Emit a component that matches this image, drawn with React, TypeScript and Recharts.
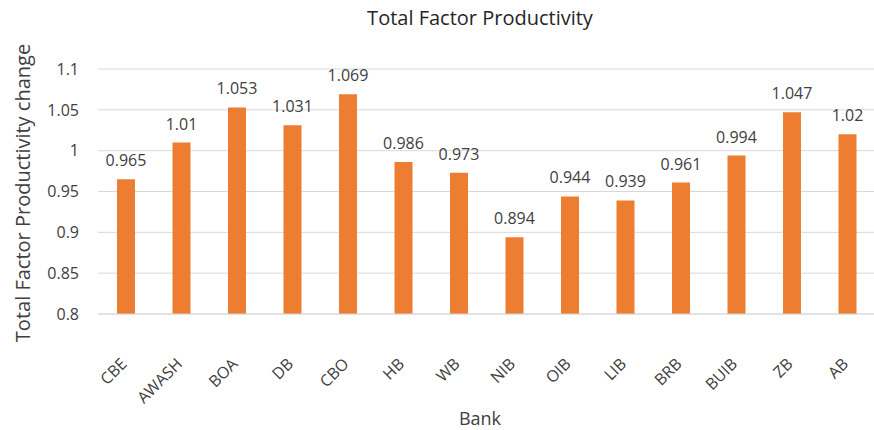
import { BarChart, Bar, XAxis, YAxis, CartesianGrid, LabelList, Label } from 'recharts'

const banks = ['CBE', 'AWASH', 'BOA', 'DB', 'CBO', 'HB', 'WB', 'NIB', 'OIB', 'LIB', 'BRB', 'BUIB', 'ZB', 'AB']
const tfpChange = [0.965, 1.01, 1.053, 1.031, 1.069, 0.986, 0.973, 0.894, 0.944, 0.939, 0.961, 0.994, 1.047, 1.02]
const yTicks = [0.8, 0.85, 0.9, 0.95, 1, 1.05, 1.1]

const data = banks.map((bank, i) => ({ bank, value: tfpChange[i] }))

const FONT = '"Open Sans", "Noto Sans", sans-serif'
const TEXT = '#404040'

const BankTick = ({ x, y, payload }: any) => (
    <g transform={`translate(${x + 2},${y + 43})`}>
        <text x={0} y={0} textAnchor="end" transform="rotate(-45)" fill={TEXT} fontSize={16} fontFamily={FONT}>
            {payload.value}
        </text>
    </g>
)

export default function App() {
    return (
        <div style={{ position: 'fixed', left: 0, top: 0, width: 874, height: 430, overflow: 'hidden', background: 'white' }}>
            <div style={{ position: 'absolute', left: 0, top: 4, width: 960, textAlign: 'center', fontFamily: FONT, fontSize: 20, color: '#262626' }}>
                Total Factor Productivity
            </div>
            <BarChart width={875} height={430} data={data} margin={{ top: 69, right: 0, bottom: 0, left: 0 }}>
                <CartesianGrid vertical={false} stroke="#d9d9d9" strokeWidth={1} />
                <XAxis
                    dataKey="bank"
                    height={116}
                    axisLine={{ stroke: '#d9d9d9' }}
                    tickLine={false}
                    interval={0}
                    tick={<BankTick />}
                >
                    <Label
                        content={() => (
                            <text x={480} y={425} textAnchor="middle" fill={TEXT} fontSize={18} fontFamily={FONT}>
                                Bank
                            </text>
                        )}
                    />
                </XAxis>
                <YAxis
                    width={98}
                    domain={[0.8, 1.1]}
                    ticks={yTicks}
                    axisLine={false}
                    tickLine={false}
                    tickMargin={13}
                    tickFormatter={(v: number) => String(v)}
                    tick={{ fill: TEXT, fontSize: 16, fontFamily: FONT }}
                >
                    <Label
                        content={() => (
                            <text
                                x={0}
                                y={0}
                                transform="translate(30,193) rotate(-90)"
                                textAnchor="middle"
                                fill={TEXT}
                                fontSize={20}
                                fontFamily={FONT}
                            >
                                Total Factor Productivity change
                            </text>
                        )}
                    />
                </YAxis>
                <Bar dataKey="value" fill="#ed7d31" barSize={18} isAnimationActive={false}>
                    <LabelList dataKey="value" position="top" offset={13} fill={TEXT} fontSize={16} fontFamily={FONT} />
                </Bar>
            </BarChart>
        </div>
    )
}
